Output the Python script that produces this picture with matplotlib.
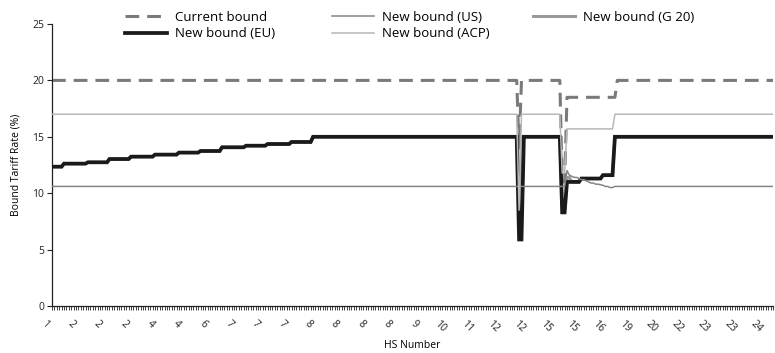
import numpy as np
import matplotlib
matplotlib.use("Agg")
import matplotlib.pyplot as plt
from matplotlib.transforms import ScaledTranslation

plt.rcParams['font.family'] = ['Open Sans', 'DejaVu Sans']

# ---- data (run-length encoded: (value, number of consecutive HS lines)) ----
n_lines = 302
tick_labels = ["1", "2", "2", "2", "4", "4", "6", "7", "7", "7", "8", "8", "8", "8",
               "9", "10", "11", "12", "12", "15", "15", "16", "19", "20", "22", "23", "23", "24"]
label_every = 11

current_runs = [(20, 195), (14, 1), (20, 17), (11, 2), (18.5, 21), (20, 66)]
eu_runs = [(12.35, 5), (12.62, 10), (12.74, 9), (13.03, 9), (13.24, 10), (13.42, 10),
           (13.6, 9), (13.74, 9), (14.07, 10), (14.21, 9), (14.36, 10), (14.54, 9),
           (15, 86), (5.9, 2), (15, 16), (8.3, 2), (11.0, 6), (11.3, 9), (11.6, 5), (15, 67)]
g20_runs = [(12.35, 5), (12.62, 10), (12.74, 9), (13.03, 9), (13.24, 10), (13.42, 10),
            (13.6, 9), (13.74, 9), (14.07, 10), (14.21, 9), (14.36, 10), (14.54, 9),
            (15, 86), (8.5, 1), (15, 17), (8.3, 2), (11.4, 2), (11.0, 4), (11.3, 9), (11.6, 5), (15, 67)]
us_runs = [(10.6, 215), (12.0, 1), (11.6, 1), (11.5, 1), (11.4, 1), (11.4, 1), (11.3, 1),
           (11.2, 1), (11.2, 1), (11.1, 1), (11.0, 1), (10.9, 1), (10.9, 1), (10.8, 1),
           (10.8, 1), (10.75, 1), (10.7, 1), (10.6, 1), (10.6, 1), (10.5, 1), (10.5, 1), (10.6, 67)]
acp_runs = [(17, 195), (8.5, 1), (17, 17), (11.8, 2), (15.7, 20), (17, 67)]


def expand(runs):
    vals, counts = zip(*runs)
    return np.repeat(np.array(vals, dtype=float), counts)


x = np.arange(n_lines)
current = expand(current_runs)
eu = expand(eu_runs)
g20 = expand(g20_runs)
us = expand(us_runs)
acp = expand(acp_runs)

W, H, DPI = 775, 353, 100
fig = plt.figure(figsize=(W / DPI, H / DPI), dpi=DPI)
ax = fig.add_axes([52 / W, (H - 306) / H, 721 / W, 282 / H])

h_cur, = ax.plot(x, current, color='#7a7a7a', lw=2.2, dashes=(4.5, 2.6),
                 label='Current bound', zorder=2)
h_g20, = ax.plot(x, g20, color='#9a9a9a', lw=2.2, label='New bound (G 20)',
                 zorder=3, solid_joinstyle='miter')
h_eu, = ax.plot(x, eu, color='#1a1a1a', lw=2.7, label='New bound (EU)',
                zorder=4, solid_joinstyle='miter')
h_us, = ax.plot(x, us, color='#858585', lw=1.1, label='New bound (US)', zorder=5)
h_acp, = ax.plot(x, acp, color='#b8b8b8', lw=1.1, label='New bound (ACP)', zorder=5)

ax.set_xlim(0, n_lines - 1)
ax.set_ylim(0, 25)
ax.set_yticks([0, 5, 10, 15, 20, 25])
ax.tick_params(axis='y', labelsize=7.5, length=3.5, width=0.8, direction='out', pad=2, colors='#222222')

major = np.arange(0, n_lines, label_every)[:len(tick_labels)]
ax.set_xticks(major)
ax.set_xticklabels(tick_labels, rotation=-45, ha='center', va='top', fontsize=7.5)
ax.set_xticks(x, minor=True)
ax.tick_params(axis='x', which='both', length=3, width=0.6, direction='out', pad=6, colors='#222222')
offset = ScaledTranslation(-7 / DPI, 0, fig.dpi_scale_trans)
for lab in ax.get_xticklabels():
    lab.set_transform(lab.get_transform() + offset)

for s in ['top', 'right']:
    ax.spines[s].set_visible(False)
for s in ['left', 'bottom']:
    ax.spines[s].set_linewidth(0.9)
    ax.spines[s].set_color('#222222')

ax.set_ylabel('Bound Tariff Rate (%)', fontsize=7.5, labelpad=8)
ax.set_xlabel('HS Number', fontsize=7.5, labelpad=4)

leg_kw = dict(frameon=False, loc='upper left', fontsize=9.5, handlelength=3.2,
              handletextpad=0.6, labelspacing=0.25, borderpad=0, borderaxespad=0)
fig.legend(handles=[h_cur, h_eu, h_us, h_acp], ncol=2, columnspacing=4.3,
           bbox_to_anchor=(125 / W, 1 - 11 / H), **leg_kw)
fig.legend(handles=[h_g20], ncol=1, bbox_to_anchor=(533 / W, 1 - 11 / H), **leg_kw)

fig.savefig('out.png', dpi=DPI)
